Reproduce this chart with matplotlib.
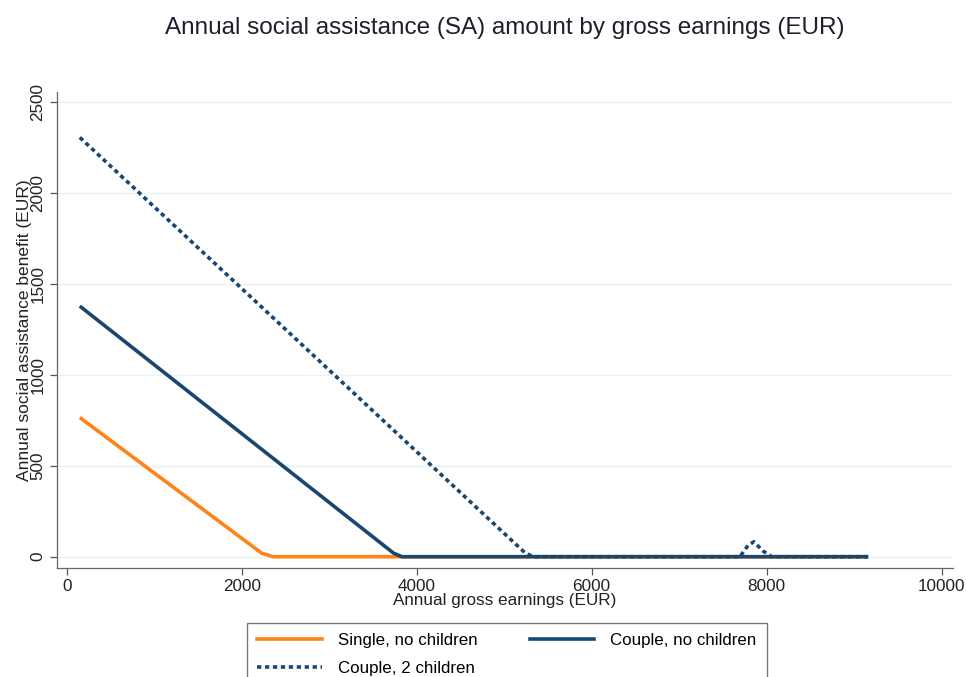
import matplotlib
matplotlib.use("Agg")
import matplotlib.pyplot as plt
from matplotlib.lines import Line2D

plt.rcParams['font.family'] = ['Liberation Sans', 'DejaVu Sans']

# Data (annual gross earnings in EUR -> annual SA in EUR)
single_x = [150, 2230, 2360, 9160]
single_y = [765, 19, 0, 0]

couple_x = [150, 3735, 3830, 9160]
couple_y = [1377, 20, 0, 0]

couple2_x = [150, 5237, 5330, 7695, 7790, 7855, 7954, 8057, 9160]
couple2_y = [2304, 22, 0, 0, 64, 82, 33, 0, 0]

title = "Annual social assistance (SA) amount by gross earnings (EUR)"
xlabel = "Annual gross earnings (EUR)"
ylabel = "Annual social assistance benefit (EUR)"
labels = ["Single, no children", "Couple, no children", "Couple, 2 children"]
xticks = [0, 2000, 4000, 6000, 8000, 10000]
yticks = [0, 500, 1000, 1500, 2000, 2500]

orange = "#ff8418"
navy = "#1a476f"

fig = plt.figure(figsize=(9.66, 6.77), dpi=100)
ax = fig.add_axes([0.0587, 0.161, 0.9275, 0.7035])

for y in yticks:
    ax.axhline(y, color="#eaf2f3", lw=1, zorder=0)

ax.plot(single_x, single_y, color=orange, lw=2.6, solid_capstyle="butt", zorder=2)
ax.plot(couple_x, couple_y, color=navy, lw=2.6, solid_capstyle="butt", zorder=3)
ax.plot(couple2_x, couple2_y, color=navy, lw=2.6, linestyle=(0, (1.2, 1.0)),
        dash_capstyle="butt", zorder=4)

ax.set_xlim(-114, 10126)
ax.set_ylim(-62, 2555)
ax.set_xticks(xticks)
ax.set_yticks(yticks)
ax.set_xticklabels([str(t) for t in xticks], fontsize=12.3, color="#222222")
ax.set_yticklabels([str(t) for t in yticks], fontsize=12.3, color="#222222",
                   rotation=90, va="center")
ax.tick_params(axis="both", direction="out", length=5, width=0.9, color="#555555", pad=3)

for s in ["top", "right"]:
    ax.spines[s].set_visible(False)
for s in ["left", "bottom"]:
    ax.spines[s].set_color("#666666")
    ax.spines[s].set_linewidth(0.9)

ax.set_xlabel(xlabel, fontsize=12.3, color="#222222", labelpad=-0.5)
ax.set_ylabel(ylabel, fontsize=12.5, color="#222222", labelpad=-1)

fig.text(0.522, 0.9586, title, ha="center", va="center", fontsize=17.5, color="#1e1e2e")

handles = [
    Line2D([], [], color=orange, lw=2.6),
    Line2D([], [], color=navy, lw=2.6),
    Line2D([], [], color=navy, lw=2.6, linestyle=(0, (1.2, 1.0))),
]
leg = fig.legend([handles[0], handles[2], handles[1]],
                 [labels[0], labels[2], labels[1]],
                 ncol=2, loc="upper left", bbox_to_anchor=(0.2557, 0.0805),
                 borderaxespad=0.0,
                 frameon=True, fancybox=False, fontsize=12.2,
                 handlelength=3.8, columnspacing=3.1, handletextpad=0.95,
                 borderpad=0.6, labelspacing=0.8)
leg.get_frame().set_edgecolor("#555555")
leg.get_frame().set_linewidth(1.0)

fig.savefig("out.png", dpi=100, facecolor="white")
